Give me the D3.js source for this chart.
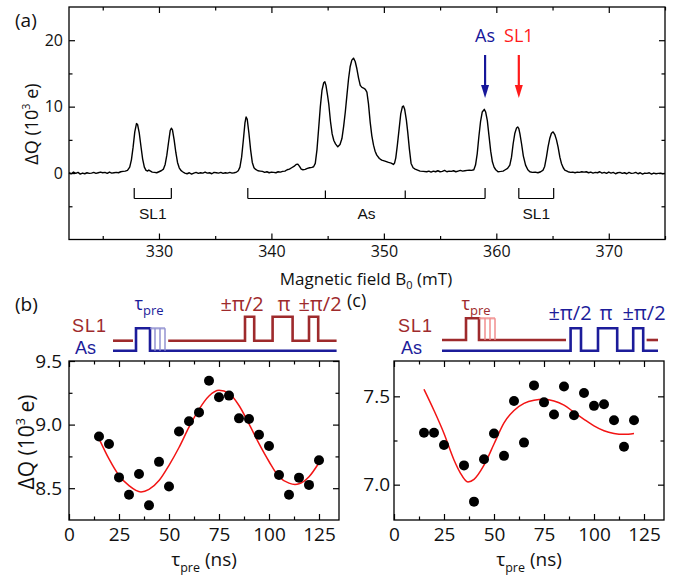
<!DOCTYPE html>
<html>
<head>
<style>
body { margin: 0; background: #fff; }
svg text { font-family: 'Open Sans', sans-serif; }
.arial { font-family: 'Liberation Sans', Arial, sans-serif; }
</style>
</head>
<body>
<svg width="678" height="579"></svg>
<script src="https://cdn.jsdelivr.net/npm/d3@7/dist/d3.min.js"></script>
<script>
// ---- data ----
// (a) charge signal vs magnetic field, [B0 (mT), dQ (1e3 e)]
const spectrum = [
  [322.0, 0.05], [322.2, -0.1], [322.4, 0.15], [322.6, -0.05], [322.8, 0.1], [323.0, -0.15], [323.2, 0.0],
  [323.4, -0.1], [323.6, 0.05], [323.8, -0.05], [324.0, 0.0], [324.2, 0.1], [324.4, -0.05], [324.6, 0.05],
  [324.8, 0.15], [325.0, 0.05], [325.2, 0.1], [325.4, -0.05], [325.6, 0.15], [325.8, 0.0], [326.0, 0.05],
  [326.2, 0.1], [326.4, 0.05], [326.6, 0.2], [326.8, 0.25], [327.0, 0.3], [327.2, 0.4], [327.4, 0.9],
  [327.55, 2.0], [327.7, 3.9], [327.85, 6.2], [328.0, 7.45], [328.1, 7.3], [328.25, 6.0], [328.4, 4.0],
  [328.55, 2.1], [328.7, 0.9], [328.85, 0.4], [329.0, 0.3], [329.1, 0.45], [329.25, 0.3], [329.4, 0.15],
  [329.6, 0.1], [329.8, 0.05], [330.0, 0.2], [330.2, 0.35], [330.4, 0.6], [330.55, 1.3], [330.7, 2.7],
  [330.85, 4.6], [331.0, 6.4], [331.1, 6.75], [331.2, 6.5], [331.35, 5.0], [331.5, 3.1], [331.65, 1.6],
  [331.8, 0.8], [331.95, 0.4], [332.1, 0.2], [332.3, 0.0], [332.5, -0.1], [332.7, 0.05], [332.9, -0.15],
  [333.1, 0.0], [333.3, 0.1], [333.5, -0.05], [333.7, 0.05], [333.9, 0.0], [334.1, 0.15], [334.3, 0.0],
  [334.5, 0.05], [334.7, -0.1], [334.9, 0.1], [335.1, 0.05], [335.3, 0.0], [335.5, 0.1], [335.7, -0.05],
  [335.9, 0.05], [336.1, 0.0], [336.3, 0.1], [336.5, 0.0], [336.7, 0.05], [336.9, 0.15], [337.05, 0.35],
  [337.2, 0.9], [337.35, 2.4], [337.5, 4.9], [337.65, 7.6], [337.75, 8.45], [337.85, 8.1], [338.0, 6.0],
  [338.15, 3.5], [338.3, 1.6], [338.45, 0.8], [338.6, 0.55], [338.8, 0.35], [339.0, 0.3], [339.2, 0.25],
  [339.4, 0.1], [339.6, 0.2], [339.8, 0.05], [340.0, 0.15], [340.2, 0.1], [340.4, 0.05], [340.6, 0.2],
  [340.8, 0.15], [341.0, 0.25], [341.2, 0.3], [341.4, 0.5], [341.6, 0.6], [341.8, 0.8], [342.0, 1.0],
  [342.2, 1.3], [342.35, 1.35], [342.5, 1.0], [342.65, 0.6], [342.8, 0.5], [343.0, 0.55], [343.2, 0.7],
  [343.4, 0.8], [343.6, 0.85], [343.75, 0.95], [343.9, 1.45], [344.05, 3.5], [344.2, 6.7], [344.35, 10.0],
  [344.5, 12.5], [344.65, 13.6], [344.75, 13.75], [344.85, 13.2], [345.0, 11.6], [345.1, 10.4], [345.25, 7.8],
  [345.4, 5.9], [345.55, 4.9], [345.7, 4.4], [345.9, 3.95], [346.1, 4.3], [346.27, 5.2], [346.42, 7.0],
  [346.57, 9.2], [346.72, 11.8], [346.86, 14.2], [347.0, 16.0], [347.15, 17.0], [347.3, 17.3], [347.45, 16.8],
  [347.6, 15.7], [347.75, 14.3], [347.9, 13.2], [348.05, 12.9], [348.19, 12.8], [348.35, 12.6], [348.49, 12.2],
  [348.63, 10.45], [348.78, 7.7], [348.93, 5.6], [349.08, 4.2], [349.22, 3.3], [349.37, 2.7], [349.6, 2.2],
  [349.81, 1.95], [350.1, 1.8], [350.41, 1.6], [350.65, 1.5], [350.85, 1.3], [350.95, 1.5], [351.06, 2.3],
  [351.2, 4.2], [351.36, 6.7], [351.5, 8.9], [351.65, 10.0], [351.74, 10.1], [351.85, 9.6], [352.0, 8.0],
  [352.12, 6.2], [352.27, 3.6], [352.42, 1.45], [352.6, 0.8], [352.78, 0.6], [353.0, 0.45], [353.22, 0.3],
  [353.5, 0.25], [353.81, 0.2], [354.0, 0.3], [354.2, 0.15], [354.4, 0.3], [354.6, 0.2], [354.8, 0.35],
  [355.0, 0.2], [355.2, 0.25], [355.4, 0.4], [355.6, 0.2], [355.8, 0.3], [356.0, 0.25], [356.2, 0.35],
  [356.4, 0.2], [356.6, 0.3], [356.8, 0.4], [357.0, 0.3], [357.2, 0.35], [357.4, 0.4], [357.6, 0.45],
  [357.8, 0.4], [358.0, 0.5], [358.15, 1.2], [358.3, 2.9], [358.45, 5.5], [358.6, 7.8], [358.75, 9.2],
  [358.93, 9.6], [359.05, 9.2], [359.2, 7.9], [359.35, 5.6], [359.5, 3.3], [359.65, 1.7], [359.8, 0.9],
  [359.95, 0.5], [360.15, 0.2], [360.4, 0.25], [360.6, 0.3], [360.8, 0.5], [361.0, 0.7], [361.2, 1.2],
  [361.35, 2.4], [361.5, 4.45], [361.65, 6.0], [361.8, 6.8], [361.9, 6.95], [362.0, 6.7], [362.1, 5.9],
  [362.24, 4.45], [362.4, 2.6], [362.6, 1.2], [362.8, 0.5], [362.98, 0.2], [363.2, 0.1], [363.45, 0.15],
  [363.7, 0.05], [363.95, 0.2], [364.16, 0.45], [364.3, 1.0], [364.46, 2.45], [364.6, 3.95], [364.75, 5.2],
  [364.9, 6.0], [365.05, 6.2], [365.2, 5.8], [365.35, 5.0], [365.49, 3.95], [365.65, 2.4], [365.79, 1.45],
  [365.95, 0.8], [366.09, 0.45], [366.38, 0.2], [366.6, 0.1], [366.8, 0.15], [367.0, 0.05], [367.2, 0.15],
  [367.4, 0.1], [367.6, 0.2], [367.8, 0.15], [368.0, 0.2], [368.2, 0.05], [368.4, 0.15], [368.6, 0.0],
  [368.8, 0.1], [369.0, 0.05], [369.2, 0.2], [369.4, 0.0], [369.6, 0.1], [369.8, -0.05], [370.0, 0.15],
  [370.2, 0.0], [370.4, 0.1], [370.6, -0.1], [370.8, 0.05], [371.0, 0.1], [371.2, -0.05], [371.4, 0.05],
  [371.6, -0.1], [371.8, 0.1], [372.0, -0.05], [372.2, 0.0], [372.4, 0.1], [372.6, -0.1], [372.8, 0.05],
  [373.0, -0.15], [373.2, 0.0], [373.4, -0.05], [373.6, 0.05], [373.8, -0.15], [374.0, 0.0], [374.2, -0.1],
  [374.4, -0.05], [374.6, 0.0], [374.8, -0.1], [375.0, -0.05]
]
// line assignments under the spectrum: [label, B0 positions]
const groups = [
  { label: 'SL1', lines: [327.8, 331.1] },
  { label: 'As', lines: [337.9, 344.8, 351.9, 359.0] },
  { label: 'SL1', lines: [362.0, 365.1] }
]
const arrows = [
  { label: 'As', field: 359.0, color: '#17179a' },
  { label: 'SL1', field: 362.0, color: '#ff1a1a' }
]
const fieldMajor = [330, 340, 350, 360, 370]
const fieldMinor = [325, 335, 345, 355, 365, 375]
const qMajorA = [0, 10, 20]
const qMinorA = [-5, 5, 15]

// (b) pulse on As, sequence on SL1
const tauB = [15, 20, 25, 30, 35, 40, 45, 50, 55, 60, 65, 70, 75, 80, 85, 90, 95, 100, 105, 110, 115, 120, 125]
const qB = [8.907, 8.847, 8.585, 8.448, 8.611, 8.365, 8.707, 8.513, 8.946, 9.026, 9.096, 9.345,
  9.215, 9.228, 9.049, 9.044, 8.92, 8.832, 8.604, 8.448, 8.583, 8.526, 8.72]
const fitTauB = [15, 20, 25, 30, 36, 40, 45, 50, 55, 60, 65, 70, 75, 80, 85, 90, 95, 100, 105, 110, 113, 115, 120, 125]
const fitQB = [8.89, 8.73, 8.6, 8.52, 8.47, 8.49, 8.56, 8.68, 8.82, 8.98, 9.12, 9.225, 9.27, 9.245,
  9.15, 9.005, 8.85, 8.71, 8.59, 8.54, 8.53, 8.535, 8.59, 8.7]

// (c) pulse on SL1, sequence on As
const tauC = [15, 20, 25, 35, 40, 45, 50, 55, 60, 65, 70, 75, 80, 85, 90, 95, 100, 105, 110, 115, 120]
const qC = [7.294, 7.294, 7.225, 7.109, 6.904, 7.144, 7.29, 7.163, 7.474, 7.238, 7.562, 7.466,
  7.397, 7.556, 7.393, 7.519, 7.446, 7.455, 7.365, 7.215, 7.365]
const fitTauC = [15, 20, 25, 30, 33, 37, 40, 45, 50, 55, 60, 65, 70, 75, 80, 85, 90, 95, 100, 105, 110, 115, 120]
const fitQC = [7.54, 7.42, 7.29, 7.14, 7.07, 7.015, 7.03, 7.11, 7.23, 7.35, 7.42, 7.46, 7.478, 7.483,
  7.474, 7.45, 7.41, 7.37, 7.333, 7.305, 7.29, 7.285, 7.29]

const tauMajor = [0, 25, 50, 75, 100, 125]
const tauMinor = [12.5, 37.5, 62.5, 87.5, 112.5]

// pulse schemes, times in ns on the panel's tau axis
const schemeB = {
  sl1: { segs: [[22, 32, []], [49.6, 133.8, [[88, 92.6], [101.8, 111.8], [120, 124.6]]]] },
  as: { segs: [[22, 133.8, [[33.5, 40.5]]]] },
  ghost: { on: 'as', from: 40.5, lines: [43, 45.5, 48] },
  labels: [['±π/2', 86.5], ['π', 107.5], ['±π/2', 125.5]],
  tau: 40, seqColor: 'sl1'
}
const schemeC = {
  sl1: { segs: [[24, 86, [[36, 42.5]]], [126.3, 132, []]] },
  as: { segs: [[24, 132, [[88.3, 93.5], [102, 111.6], [119.6, 124.6]]]] },
  ghost: { on: 'sl1', from: 42.5, lines: [45.5, 48, 50.5] },
  labels: [['±π/2', 88], ['π', 106], ['±π/2', 125]],
  tau: 41, seqColor: 'as'
}

const darkRed = '#9e2a2c'
const navy = '#1c1c9a'

// ---- drawing ----
const svg = d3.select('svg')

function frameAxes(x, y, xMaj, xMin, yMaj, yMin, xPad, yPad, fmtY, fs) {
  const [x0, x1] = x.range()
  const [y0, y1] = y.range()
  const g = svg.append('g')
  const add = (axis, t, ticks, size, labels, pad, fmt) => {
    const a = axis.tickValues(ticks).tickSizeInner(-size).tickSizeOuter(0).tickPadding(pad)
      .tickFormat(labels ? fmt : () => '')
    const s = g.append('g').attr('transform', t).call(a)
      .attr('font-family', null).attr('font-size', null)
    s.select('.domain').remove()
    s.selectAll('line').attr('stroke', '#000').attr('stroke-width', 1.2)
    s.selectAll('text').attr('font-size', fs).attr('fill', '#111')
  }
  const fx = d3.format('d')
  add(d3.axisBottom(x), `translate(0,${y0})`, xMaj, 6, true, xPad, fx)
  add(d3.axisBottom(x), `translate(0,${y0})`, xMin, 3.5, false, 0)
  add(d3.axisTop(x), `translate(0,${y1})`, xMaj, 6, false, 0)
  add(d3.axisTop(x), `translate(0,${y1})`, xMin, 3.5, false, 0)
  add(d3.axisLeft(y), `translate(${x0},0)`, yMaj, 6, true, yPad, fmtY)
  add(d3.axisLeft(y), `translate(${x0},0)`, yMin, 3.5, false, 0)
  add(d3.axisRight(y), `translate(${x1},0)`, yMaj, 6, false, 0)
  add(d3.axisRight(y), `translate(${x1},0)`, yMin, 3.5, false, 0)
  svg.append('rect').attr('x', x0).attr('y', y1).attr('width', x1 - x0).attr('height', y0 - y1)
    .attr('fill', 'none').attr('stroke', '#000').attr('stroke-width', 1.3)
}

function yLabel(cx, cy, size) {
  const t = svg.append('text').attr('transform', `translate(${cx},${cy}) rotate(-90)`)
    .attr('text-anchor', 'middle').attr('font-size', size).attr('fill', '#111')
  t.append('tspan').text('ΔQ (10')
  t.append('tspan').attr('dy', -size * 0.4).attr('font-size', size * 0.6).text('3')
  t.append('tspan').attr('dy', size * 0.4).text(' e)')
}

function tauLabel(cx, baseline, size, sub, color) {
  const t = svg.append('text').attr('x', cx).attr('y', baseline)
    .attr('text-anchor', 'middle').attr('font-size', size).attr('fill', color)
  t.append('tspan').text('τ')
  t.append('tspan').attr('dy', size * 0.3).attr('font-size', sub).text('pre')
  return t
}

// panel (a)
const xA = d3.scaleLinear().domain([322, 375]).range([69, 665])
const yA = d3.scaleLinear().domain([-10, 25]).range([239.5, 7])
frameAxes(xA, yA, fieldMajor, fieldMinor, qMajorA, qMinorA, 6, 6, d3.format('d'), 16)

svg.append('path').datum(spectrum)
  .attr('fill', 'none').attr('stroke', '#000').attr('stroke-width', 1.4).attr('stroke-linejoin', 'round')
  .attr('d', d3.line().x(d => xA(d[0])).y(d => yA(d[1])))

groups.forEach(gr => {
  const yb = 198.5
  const lo = d3.min(gr.lines), hi = d3.max(gr.lines)
  const p = d3.path()
  p.moveTo(xA(lo), yb); p.lineTo(xA(hi), yb)
  gr.lines.forEach((b, i) => {
    const top = (i === 0 || i === gr.lines.length - 1) ? 188 : 190.5
    p.moveTo(xA(b), yb); p.lineTo(xA(b), top)
  })
  svg.append('path').attr('d', p.toString()).attr('fill', 'none').attr('stroke', '#000').attr('stroke-width', 1.2)
  svg.append('text').attr('class', 'arial').attr('x', xA((lo + hi) / 2)).attr('y', 219)
    .attr('text-anchor', 'middle').attr('font-size', 15.5).attr('fill', '#111').text(gr.label)
})

arrows.forEach(a => {
  const xa = xA(a.field)
  svg.append('line').attr('x1', xa).attr('x2', xa).attr('y1', 55).attr('y2', 88)
    .attr('stroke', a.color).attr('stroke-width', 2.2)
  svg.append('path').attr('d', `M${xa - 4},85L${xa + 4},85L${xa},98Z`).attr('fill', a.color)
  svg.append('text').attr('x', xa).attr('y', 42).attr('text-anchor', 'middle')
    .attr('font-size', 18).attr('fill', a.color).text(a.label)
})

svg.append('text').attr('x', 15).attr('y', 27).attr('font-size', 19).attr('fill', '#111').text('(a)')
yLabel(37.5, 124, 18)
const xl = svg.append('text').attr('x', 366).attr('y', 285).attr('text-anchor', 'middle')
  .attr('font-size', 17).attr('fill', '#111')
xl.append('tspan').text('Magnetic field B')
xl.append('tspan').attr('dy', 4).attr('font-size', 11).text('0')
xl.append('tspan').attr('dy', -4).text(' (mT)')

// panels (b) and (c)
function rabiPanel(x, y, tau, q, fitT, fitQ, yMaj, yMin, yPad, scheme, levels) {
  frameAxes(x, y, tauMajor, tauMinor, yMaj, yMin, 7.5, yPad, d3.format('.1f'), 19)
  svg.append('path').datum(d3.zip(fitT, fitQ))
    .attr('fill', 'none').attr('stroke', '#f21414').attr('stroke-width', 1.5)
    .attr('d', d3.line().x(d => x(d[0])).y(d => y(d[1])).curve(d3.curveMonotoneX))
  svg.append('g').selectAll('circle').data(d3.zip(tau, q)).join('circle')
    .attr('cx', d => x(d[0])).attr('cy', d => y(d[1])).attr('r', 5).attr('fill', '#000')
  tauLabel((x.range()[0] + x.range()[1]) / 2, 566, 19, 12.5, '#111')
    .append('tspan').attr('dy', -5.7).text(' (ns)')

  // pulse scheme
  const colors = { sl1: darkRed, as: navy }
  const step = (segs, base, high) => {
    const pts = []
    segs.forEach(([s, e, pulses]) => {
      const seg = [[s, base]]
      pulses.forEach(([a, b]) => seg.push([a, base], [a, high], [b, high], [b, base]))
      seg.push([e, base])
      pts.push(seg)
    })
    return pts
  }
  const line = d3.line().x(d => x(d[0])).y(d => d[1])
  ;['as', 'sl1'].forEach(k => {
    const lv = levels[k]
    step(scheme[k].segs, lv[0], lv[1]).forEach(seg => {
      svg.append('path').attr('d', line(seg)).attr('fill', 'none')
        .attr('stroke', colors[k]).attr('stroke-width', 2.6)
    })
  })
  const gh = scheme.ghost
  const lv = levels[gh.on]
  const ghostColor = gh.on === 'as' ? '#8f8fd0' : '#f08a8a'
  const last = gh.lines[gh.lines.length - 1]
  svg.append('path').attr('d', line([[gh.from, lv[1]], [last, lv[1]]]))
    .attr('stroke', ghostColor).attr('stroke-width', 2.2).attr('fill', 'none').attr('opacity', 0.8)
  gh.lines.forEach(t => {
    svg.append('path').attr('d', line([[t, lv[1]], [t, lv[0]]]))
      .attr('stroke', ghostColor).attr('stroke-width', 1.8).attr('fill', 'none').attr('opacity', 0.8)
  })
  const seqCol = colors[scheme.seqColor]
  const tauCol = colors[gh.on]
  scheme.labels.forEach(([s, t]) => {
    svg.append('text').attr('x', x(t)).attr('y', levels.labelY).attr('text-anchor', 'middle')
      .attr('font-size', 20).attr('fill', seqCol).text(s)
  })
  tauLabel(x(scheme.tau), 310, 18, 13, tauCol)
  svg.append('text').attr('x', x.range()[0] + levels.nameX).attr('y', 332).attr('font-size', 18)
    .attr('class', 'arial').attr('letter-spacing', 1).attr('fill', darkRed).text('SL1')
  svg.append('text').attr('x', x.range()[0] + levels.nameX + 3).attr('y', 353.5).attr('font-size', 18)
    .attr('class', 'arial').attr('fill', navy).text('As')
}

const xB = d3.scaleLinear().domain([0, 135]).range([69, 339])
const yB = d3.scaleLinear().domain([8.25, 9.5]).range([520, 361])
rabiPanel(xB, yB, tauB, qB, fitTauB, fitQB, [8.5, 9.0, 9.5], [8.75, 9.25], 7, schemeB,
  { sl1: [340.7, 316.7], as: [350.7, 328.3], labelY: 311, nameX: 3 })
yLabel(33.5, 442, 21)
svg.append('text').attr('x', 15).attr('y', 311).attr('font-size', 19).attr('fill', '#111').text('(b)')

const xC = d3.scaleLinear().domain([0, 135]).range([394, 664])
const yC = d3.scaleLinear().domain([6.8, 7.7]).range([520, 361])
rabiPanel(xC, yC, tauC, qC, fitTauC, fitQC, [7.0, 7.5], [7.25], 4, schemeC,
  { sl1: [340, 318.3], as: [350.7, 328.3], labelY: 320, nameX: 4 })
svg.append('text').attr('x', 347).attr('y', 307).attr('font-size', 18).attr('fill', '#111').text('(c)')
</script>
</body>
</html>
